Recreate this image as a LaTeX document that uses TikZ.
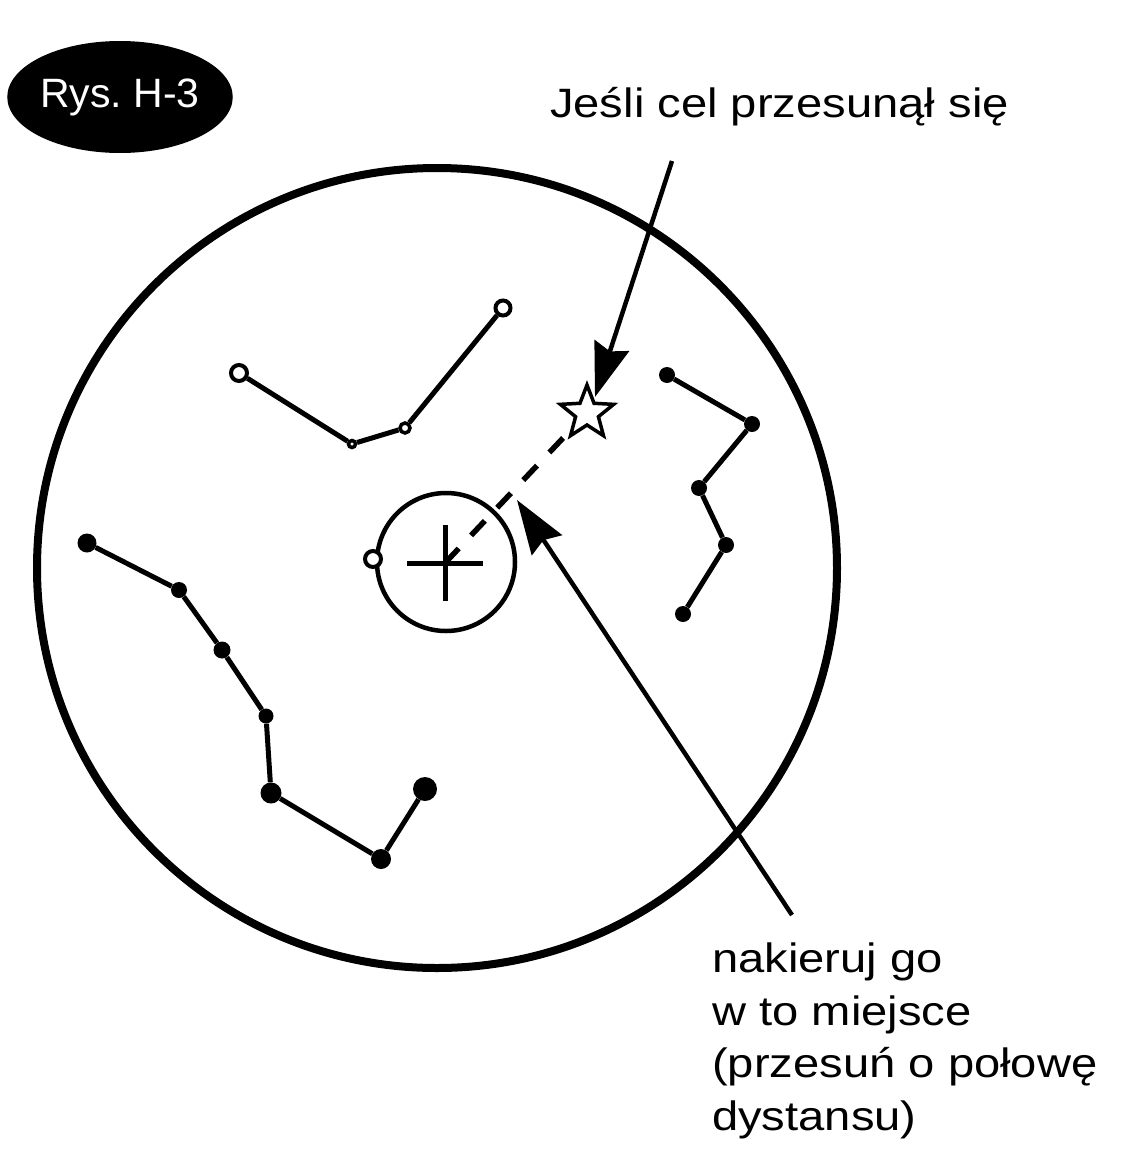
\documentclass[tikz,border=0pt]{standalone}
\usepackage{fontspec}
\setmainfont{Liberation Sans}
\newfontfamily\widefont[FakeStretch=1.15]{Liberation Sans}
\usetikzlibrary{shapes.geometric, arrows.meta}
\frenchspacing
\begin{document}
\begin{tikzpicture}[x=1pt, y=-1pt,
  dot/.style={circle, fill=black, inner sep=0pt, minimum size=#1},
  ring/.style={circle, draw=black, fill=white, line width=4pt, inner sep=0pt, minimum size=#1},
  cline/.style={line width=5pt},
  pointer/.style={line width=4.5pt, -{Stealth[length=54pt, width=36pt, inset=6pt]}},
  lbl/.style={font=\widefont\fontsize{41}{52.5}\selectfont, inner sep=0pt, align=left}
]
\useasboundingbox (0,0) rectangle (1135,1175);

% figure label
\node[ellipse, fill=black, minimum width=176pt, minimum height=112pt, inner sep=0pt,
      text=white, font=\fontsize{41}{48}\selectfont] (fig) at (120,97) {\raisebox{2pt}{Rys.\ H-3}};

% field of view
\draw[line width=8pt] (437,568) circle[radius=400];

% constellation with open stars
\node[ring=16pt] (a1) at (239,373) {};
\node[ring=7pt, line width=3.5pt] (a2) at (352,444) {};
\node[ring=10pt, line width=3.5pt] (a3) at (405,428) {};
\node[ring=15pt] (a4) at (503,308) {};
\draw[cline] (a1) -- (a2) -- (a3) -- (a4);

% right constellation
\node[dot=16pt] (b1) at (667,375) {};
\node[dot=16pt] (b2) at (752,424) {};
\node[dot=16pt] (b3) at (699,488) {};
\node[dot=16pt] (b4) at (726,545) {};
\node[dot=16pt] (b5) at (683,614) {};
\draw[cline] (b1) -- (b2) -- (b3) -- (b4) -- (b5);

% bottom-left constellation
\node[dot=19pt] (c1) at (87,543) {};
\node[dot=16pt] (c2) at (179,590) {};
\node[dot=17pt] (c3) at (222,650) {};
\node[dot=15pt] (c4) at (266,716) {};
\node[dot=21pt] (c5) at (271,793) {};
\node[dot=20pt] (c6) at (381,859) {};
\node[dot=24pt] (c7) at (425,789) {};
\draw[cline] (c1) -- (c2) -- (c3) -- (c4) -- (c5) -- (c6) -- (c7);

% reticle
\node[circle, draw, line width=4.5pt, minimum size=138pt, inner sep=0pt] (ret) at (446,562) {};
\coordinate (cross) at (445,563);
\draw[line width=5pt] (407,563) -- (483,563) (445,525) -- (445,601);
\node[ring=16pt] (guide) at (373,559) {};

% dashed path to the moved target
\coordinate (dashend) at (564,437);
\draw[line width=5.5pt, dash pattern=on 20pt off 18pt] (cross) -- (dashend);

% moved target star
\begin{scope}[shift={(587,413)}]
  \draw[line width=3.5pt, fill=white, line join=miter]
    (-90:28) -- (-54:12) -- (-18:28) -- (18:12) -- (54:28) -- (90:12)
    -- (126:28) -- (162:12) -- (198:28) -- (234:12) -- cycle;
\end{scope}
\coordinate (star) at (587,413);

% arrows
\coordinate (s1) at (672,161);
\coordinate (t1) at (595,397);
\draw[pointer] (s1) -- (t1);
\coordinate (s2) at (792,915);
\coordinate (t2) at (517,500);
\draw[pointer] (s2) -- (t2);

% texts
\node[lbl, anchor=base west] (top) at (550,117) {Jeśli cel przesunął się};
\node[lbl, anchor=base west] (note) at (712,1130)
  {nakieruj go\\w to miejsce\\(przesuń o połowę\\dystansu)};
\end{tikzpicture}
\end{document}
